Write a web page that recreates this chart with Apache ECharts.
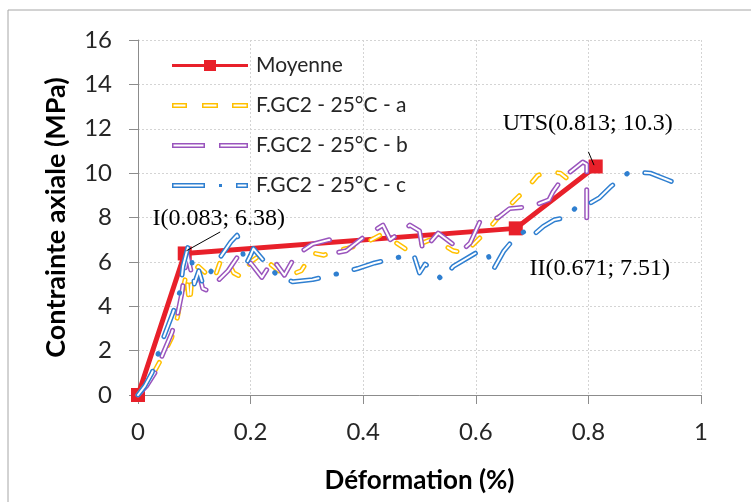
<!DOCTYPE html>
<html>
<head>
<meta charset="utf-8">
<script src="https://cdn.jsdelivr.net/npm/echarts@6/dist/echarts.min.js"></script>
<style>
  html, body { margin: 0; padding: 0; background: #fff; }
  #chart { width: 751px; height: 502px; }
</style>
</head>
<body>
<div id="chart"></div>
<script>
// Moyenne (points remarquables)
const meanStrain = [0, 0.083, 0.671, 0.813];
const meanStress = [0, 6.38, 7.51, 10.3];

// F.GC2 - 25°C - a
const strainA = [0, 0.015, 0.03, 0.045, 0.06, 0.07, 0.075, 0.082, 0.086, 0.09, 0.092, 0.096, 0.107, 0.12, 0.135,
  0.146, 0.158, 0.17, 0.185, 0.2, 0.217, 0.23, 0.25, 0.27, 0.29, 0.31, 0.33, 0.35, 0.37, 0.4, 0.43, 0.45, 0.48,
  0.5, 0.52, 0.54, 0.56, 0.58, 0.6, 0.62, 0.64, 0.67, 0.69, 0.71, 0.73, 0.75, 0.77];
const stressA = [0, 0.5, 1.1, 1.8, 2.6, 3.5, 4.2, 5.0, 5.5, 4.4, 4.1, 5.4, 5.8, 5.5, 5.2,
  6.0, 6.1, 5.5, 5.3, 6.0, 6.3, 6.0, 5.6, 5.4, 5.6, 6.4, 6.3, 6.5, 6.6, 6.8, 7.2, 7.0, 6.5,
  6.8, 7.0, 6.8, 6.5, 6.4, 6.9, 7.4, 8.0, 8.8, 9.3, 9.9, 10.05, 10.0, 9.6];

// F.GC2 - 25°C - b
const strainB = [0, 0.015, 0.03, 0.045, 0.06, 0.07, 0.078, 0.083, 0.088, 0.094, 0.1, 0.108, 0.115, 0.124, 0.14,
  0.16, 0.176, 0.194, 0.2, 0.22, 0.24, 0.26, 0.28, 0.31, 0.34, 0.35, 0.37, 0.4, 0.435, 0.448, 0.483,
  0.5, 0.506, 0.533, 0.575, 0.59, 0.607, 0.64, 0.66, 0.7, 0.73, 0.737, 0.755, 0.79, 0.797, 0.797];
const stressB = [0, 0.4, 1.0, 1.9, 2.8, 3.6, 4.6, 5.6, 6.3, 5.6, 5.0, 5.5, 4.8, 4.7, 5.1,
  5.6, 6.2, 5.8, 5.95, 5.3, 6.1, 5.4, 6.3, 6.8, 7.0, 6.4, 6.5, 7.1, 7.66, 7.0, 7.66,
  7.4, 6.5, 7.3, 6.5, 6.85, 7.8, 8.0, 8.4, 8.5, 8.8, 9.15, 9.8, 10.5, 10.4, 7.2];

// F.GC2 - 25°C - c
const strainC = [0, 0.012, 0.025, 0.044, 0.062, 0.075, 0.08, 0.089, 0.095, 0.1, 0.108, 0.115, 0.128, 0.146,
  0.165, 0.176, 0.185, 0.19, 0.2, 0.205, 0.225, 0.247, 0.275, 0.31, 0.36, 0.39, 0.42, 0.47, 0.49, 0.5, 0.51,
  0.52, 0.54, 0.56, 0.6, 0.62, 0.63, 0.65, 0.67, 0.688, 0.697, 0.72, 0.74, 0.76, 0.78, 0.8, 0.82, 0.84,
  0.87, 0.88, 0.91, 0.94, 0.96];
const stressC = [0, 0.4, 1.0, 2.5, 3.7, 4.7, 5.8, 6.7, 6.2, 5.0, 5.6, 5.0, 5.5, 6.2,
  6.9, 7.2, 6.6, 5.8, 6.3, 6.6, 6.0, 5.4, 5.1, 5.2, 5.5, 5.7, 5.95, 6.25, 6.3, 5.5, 5.9,
  5.7, 5.2, 5.8, 6.4, 6.5, 5.6, 6.5, 7.1, 7.4, 7.1, 7.6, 7.9, 8.0, 8.5, 8.6, 8.9, 9.4,
  10.0, 10.05, 10.0, 9.7, 9.5];

const xTicks = [0, 0.2, 0.4, 0.6, 0.8, 1];
const yTicks = [0, 2, 4, 6, 8, 10, 12, 14, 16];

const pairs = (xs, ys) => xs.map((x, i) => [x, ys[i]]);

const RED = '#e8202a';
const YELLOW = '#ffc000';
const PURPLE = '#9a55bd';
const BLUE = '#2f7fd0';

// icones de légende : traits creux (contour coloré, cœur blanc)
function hollowDashes(segs, dots) {
  let d = 'M0 0 M76 14 ';
  segs.forEach(([a, b]) => {
    d += 'M' + a + ' 4.5 H' + b + ' V9.5 H' + a + ' Z ';
    d += 'M' + (a + 1.5) + ' 6 V8 H' + (b - 1.5) + ' V6 Z ';
  });
  (dots || []).forEach(c => {
    d += 'M' + (c - 1.5) + ' 5.5 H' + (c + 1.5) + ' V8.5 H' + (c - 1.5) + ' Z ';
  });
  return 'path://' + d;
}
const iconMean = 'path://M0 0 M76 14 M0 5.5 H76 V8.5 H0 Z M32 1.5 H44 V12.5 H32 Z';
const iconA = hollowDashes([[0, 15], [30, 46], [60, 76]]);
const iconB = hollowDashes([[0, 33], [47, 76]]);
const iconC = hollowDashes([[0, 33], [64, 76]], [48.5]);

function curve(name, data, color, dash, coreDash) {
  return [
    {
      name: name, type: 'line', data: data, symbol: 'none', silent: true, z: 3,
      color: color,
      lineStyle: {color: color, width: 5, type: dash, cap: 'round', join: 'round'}
    },
    {
      name: name + ' (cœur)', type: 'line', data: data, symbol: 'none', silent: true, z: 3,
      lineStyle: {color: '#fff', width: 2, type: coreDash || dash, cap: 'round', join: 'round'}
    }
  ];
}

const chart = echarts.init(document.getElementById('chart'));

const option = {
  animation: false,
  backgroundColor: '#fff',
  graphic: [{
    type: 'rect', silent: true, z: -1,
    shape: {x: 8, y: 10, width: 800, height: 560},
    style: {fill: 'none', stroke: '#a6a6a6', lineWidth: 1}
  }],
  grid: {left: 138, right: 50, top: 40, bottom: 107},
  legend: {
    left: 172, top: 55, orient: 'vertical', padding: 0,
    itemWidth: 76, itemHeight: 14, itemGap: 19,
    selectedMode: false,
    itemStyle: {borderWidth: 0},
    textStyle: {fontFamily: 'Lato', fontSize: 21, color: '#262626', padding: [0, 0, 0, 3]},
    data: [
      {name: 'Moyenne', icon: iconMean, itemStyle: {color: RED}},
      {name: 'F.GC2 - 25°C - a', icon: iconA, itemStyle: {color: YELLOW}},
      {name: 'F.GC2 - 25°C - b', icon: iconB, itemStyle: {color: PURPLE}},
      {name: 'F.GC2 - 25°C - c', icon: iconC, itemStyle: {color: BLUE}}
    ]
  },
  xAxis: {
    type: 'value', min: xTicks[0], max: xTicks[xTicks.length - 1], interval: 0.2,
    name: 'Déformation (%)', nameLocation: 'middle', nameGap: 73,
    nameTextStyle: {fontFamily: 'Lato', fontWeight: 'bold', fontSize: 26, color: '#000'},
    axisLine: {show: true, lineStyle: {color: '#8c8c8c', width: 1}},
    axisTick: {show: true, length: 9, lineStyle: {color: '#8c8c8c'}},
    axisLabel: {fontFamily: 'Lato', fontSize: 24, color: '#262626', margin: 25},
    splitLine: {show: true, lineStyle: {color: '#d4d4d4', type: [2, 2]}}
  },
  yAxis: {
    type: 'value', min: yTicks[0], max: yTicks[yTicks.length - 1], interval: 2,
    name: 'Contrainte axiale (MPa)', nameLocation: 'middle', nameGap: 68, nameRotate: 90,
    nameTextStyle: {fontFamily: 'Lato', fontWeight: 'bold', fontSize: 27, color: '#000'},
    axisLine: {show: true, lineStyle: {color: '#8c8c8c', width: 1}},
    axisTick: {show: true, length: 9, lineStyle: {color: '#8c8c8c'}},
    axisLabel: {fontFamily: 'Lato', fontSize: 24, color: '#262626', margin: 26},
    splitLine: {show: true, lineStyle: {color: '#d4d4d4', type: [2, 2]}}
  },
  series: [
    {
      name: 'Moyenne', type: 'line', data: pairs(meanStrain, meanStress), z: 2,
      color: RED,
      symbol: 'rect', symbolSize: 14, showAllSymbol: true,
      itemStyle: {color: RED},
      lineStyle: {color: RED, width: 5},
      markPoint: {
        silent: true, symbol: 'rect', symbolSize: 0,
        label: {
          show: true, position: 'inside', color: '#000',
          fontFamily: 'Liberation Serif', fontSize: 24,
          formatter: p => p.name
        },
        data: [
          {name: 'I(0.083; 6.38)', coord: [meanStrain[1], meanStress[1]], label: {offset: [34, -35]}},
          {name: 'II(0.671; 7.51)', coord: [meanStrain[2], meanStress[2]], label: {offset: [84, 40]}},
          {name: 'UTS(0.813; 10.3)', coord: [meanStrain[3], meanStress[3]], label: {offset: [-8, -43]}}
        ]
      },
      markLine: {
        silent: true, symbol: ['none', 'none'],
        label: {show: false},
        lineStyle: {color: '#000', width: 1, type: 'solid'},
        data: [
          [{coord: [0.086, 6.5]}, {coord: [0.146, 7.35]}],
          [{coord: [0.8, 10.96]}, {coord: [0.81, 10.36]}]
        ]
      }
    },
    ...curve('F.GC2 - 25°C - a', pairs(strainA, stressA), YELLOW, [10, 19]),
    ...curve('F.GC2 - 25°C - b', pairs(strainB, stressB), PURPLE, [28, 18]),
    ...curve('F.GC2 - 25°C - c', pairs(strainC, stressC), BLUE, [28, 18, 0.5, 18], [28, 36.5])
  ]
};

chart.setOption(option);
</script>
</body>
</html>
